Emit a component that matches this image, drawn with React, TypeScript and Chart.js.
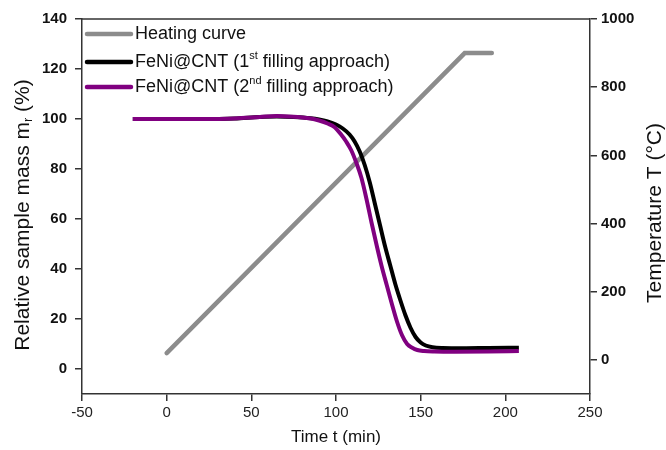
import React, { useEffect, useRef } from "react";
import { Chart, registerables } from "chart.js";
Chart.register(...registerables);

const heatTime = [0, 176, 192];
const heatTemp = [20, 900, 900];

const time1 = [-20, 0, 20, 40, 55, 65, 75, 85, 90, 95, 100, 104, 108, 111, 114, 117, 120, 123, 126, 129, 132, 135, 138, 141, 144, 147, 150, 153, 157, 163, 175, 190, 208];
const mass1 = [100, 100, 100, 100.2, 100.8, 101, 100.8, 100.3, 99.8, 99.0, 97.8, 96.2, 93.8, 91.0, 87.0, 81.5, 74.5, 66, 57.5, 49, 41.5, 34, 27.5, 21.5, 16.5, 12.8, 10.6, 9.4, 8.7, 8.4, 8.3, 8.4, 8.5];

const time2 = [-20, 0, 20, 40, 55, 65, 75, 80, 86, 90, 95, 99, 103, 106, 109, 112, 115, 118, 121, 124, 127, 130, 133, 136, 139, 142, 145, 148, 152, 158, 170, 190, 208];
const mass2 = [100, 100, 100, 100.2, 100.8, 101.2, 100.9, 100.6, 100.1, 99.4, 98.2, 96.8, 93.8, 91.0, 87.5, 82.5, 76.5, 68, 58.5, 49.5, 41, 33.5, 26, 19, 13.5, 10, 8.5, 7.6, 7.2, 7.0, 6.9, 7.0, 7.2];

const xTicks = [-50, 0, 50, 100, 150, 200, 250];
const massTicks = [0, 20, 40, 60, 80, 100, 120, 140];
const tempTicks = [0, 200, 400, 600, 800, 1000];

const legendLabels = [
  { color: "#8c8c8c", parts: [["Heating curve", ""]] },
  { color: "#000000", parts: [["FeNi@CNT (1", ""], ["st", "sup"], [" filling approach)", ""]] },
  { color: "#800080", parts: [["FeNi@CNT (2", ""], ["nd", "sup"], [" filling approach)", ""]] },
];

const FONT = "'Liberation Sans', Arial, sans-serif";

function drawParts(ctx: CanvasRenderingContext2D, parts: string[][], x: number, y: number, size: number) {
  let cx = x;
  for (const [txt, kind] of parts) {
    if (kind === "sup") {
      ctx.font = `${Math.round(size * 0.62)}px ${FONT}`;
      ctx.fillText(txt, cx, y - size * 0.35);
    } else if (kind === "sub") {
      ctx.font = `${Math.round(size * 0.62)}px ${FONT}`;
      ctx.fillText(txt, cx, y + size * 0.25);
    } else {
      ctx.font = `${size}px ${FONT}`;
      ctx.fillText(txt, cx, y);
    }
    cx += ctx.measureText(txt).width;
  }
  return cx - x;
}

function measureParts(ctx: CanvasRenderingContext2D, parts: string[][], size: number) {
  let w = 0;
  for (const [txt, kind] of parts) {
    ctx.font = kind ? `${Math.round(size * 0.62)}px ${FONT}` : `${size}px ${FONT}`;
    w += ctx.measureText(txt).width;
  }
  return w;
}

const decorPlugin = {
  id: "decor",
  afterDraw(chart: any) {
    const ctx = chart.ctx as CanvasRenderingContext2D;
    const a = chart.chartArea;
    ctx.save();
    ctx.strokeStyle = "#333";
    ctx.lineWidth = 1.5;
    ctx.beginPath();
    ctx.moveTo(a.left, a.top);
    ctx.lineTo(a.right, a.top);
    ctx.stroke();

    const rows = [34, 62, 87];
    legendLabels.forEach((l, i) => {
      ctx.strokeStyle = l.color;
      ctx.lineWidth = 4.5;
      ctx.lineCap = "round";
      ctx.beginPath();
      ctx.moveTo(87, rows[i]);
      ctx.lineTo(131, rows[i]);
      ctx.stroke();
      ctx.fillStyle = "#111";
      ctx.textBaseline = "middle";
      ctx.textAlign = "left";
      drawParts(ctx, l.parts, 135, rows[i], 18);
    });

    ctx.fillStyle = "#111";
    ctx.textAlign = "center";
    ctx.textBaseline = "middle";
    ctx.font = `17px ${FONT}`;
    ctx.fillText("Time t (min)", (a.left + a.right) / 2, 437);

    const leftParts = [["Relative sample mass m", ""], ["r", "sub"], [" (%)", ""]];
    ctx.save();
    ctx.translate(23, 215);
    ctx.rotate(-Math.PI / 2);
    ctx.textAlign = "left";
    const wl = measureParts(ctx, leftParts, 21);
    drawParts(ctx, leftParts, -wl / 2, 0, 21);
    ctx.restore();

    ctx.save();
    ctx.translate(655, 213);
    ctx.rotate(-Math.PI / 2);
    ctx.textAlign = "center";
    ctx.font = `21px ${FONT}`;
    ctx.fillText("Temperature T (\u00B0C)", 0, 0);
    ctx.restore();

    ctx.restore();
  },
};

export default function App() {
  const ref = useRef<HTMLCanvasElement | null>(null);
  useEffect(() => {
    if (!ref.current) return;
    const axisColor = "#333";
    const chart = new Chart(ref.current, {
      type: "line",
      data: {
        datasets: [
          {
            label: "FeNi@CNT (2nd filling approach)",
            data: time2.map((t, i) => ({ x: t, y: mass2[i] })),
            borderColor: "#800080",
            borderWidth: 4,
            pointRadius: 0,
            cubicInterpolationMode: "monotone",
            yAxisID: "yL",
            order: 1,
          },
          {
            label: "FeNi@CNT (1st filling approach)",
            data: time1.map((t, i) => ({ x: t, y: mass1[i] })),
            borderColor: "#000000",
            borderWidth: 4,
            pointRadius: 0,
            cubicInterpolationMode: "monotone",
            yAxisID: "yL",
            order: 2,
          },
          {
            label: "Heating curve",
            data: heatTime.map((t, i) => ({ x: t, y: heatTemp[i] })),
            borderColor: "#8c8c8c",
            borderWidth: 4.5,
            borderCapStyle: "round",
            pointRadius: 0,
            yAxisID: "yR",
            order: 3,
          },
        ],
      },
      options: {
        responsive: false,
        animation: false,
        layout: { padding: { top: 19, left: 0, right: 0, bottom: 0 } },
        plugins: { legend: { display: false }, tooltip: { enabled: false } },
        scales: {
          x: {
            type: "linear",
            position: "bottom",
            min: -50,
            max: 250,
            afterFit: (s: any) => { s.height = 56; },
            afterBuildTicks: (s: any) => { s.ticks = xTicks.map((v) => ({ value: v })); },
            ticks: { font: { family: FONT, size: 15 }, color: "#222", padding: 3, maxRotation: 0, callback: (v: any) => String(v) },
            grid: { drawOnChartArea: false, drawTicks: true, tickLength: 7, color: axisColor, lineWidth: 1.5 },
            border: { color: axisColor, width: 1.5 },
          },
          yL: {
            type: "linear",
            position: "left",
            min: -10,
            max: 140,
            afterFit: (s: any) => { s.width = 82; },
            afterBuildTicks: (s: any) => { s.ticks = massTicks.map((v) => ({ value: v })); },
            ticks: { font: { family: FONT, size: 15, weight: "bold" }, color: "#111", padding: 8, callback: (v: any) => String(v) },
            grid: { drawOnChartArea: false, drawTicks: true, tickLength: 7, color: axisColor, lineWidth: 1.5 },
            border: { color: axisColor, width: 1.5 },
          },
          yR: {
            type: "linear",
            position: "right",
            min: -100,
            max: 1000,
            afterFit: (s: any) => { s.width = 76; },
            afterBuildTicks: (s: any) => { s.ticks = tempTicks.map((v) => ({ value: v })); },
            ticks: { font: { family: FONT, size: 15, weight: "bold" }, color: "#111", padding: 4, callback: (v: any) => String(v) },
            grid: { drawOnChartArea: false, drawTicks: true, tickLength: 7, color: axisColor, lineWidth: 1.5 },
            border: { color: axisColor, width: 1.5 },
          },
        },
      } as any,
      plugins: [decorPlugin],
    });
    return () => chart.destroy();
  }, []);
  return (
    <div style={{ position: "fixed", left: 0, top: 0, width: 666, height: 450, background: "#fff" }}>
      <canvas ref={ref} width={666} height={450} />
    </div>
  );
}
